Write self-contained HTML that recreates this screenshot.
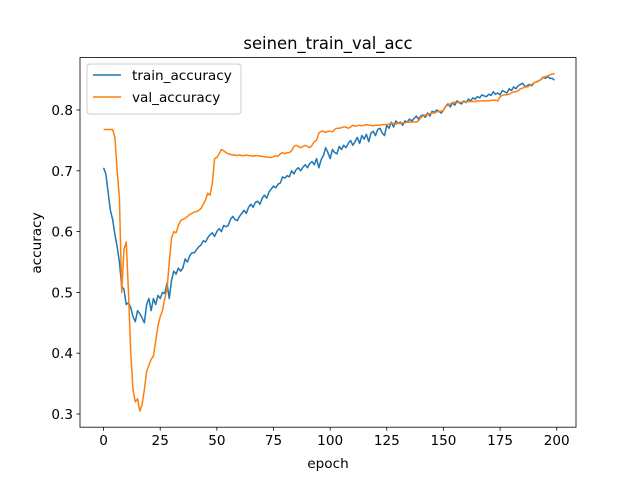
<!DOCTYPE html>
<html><head><meta charset="utf-8"><style>
body{margin:0;background:#fff}
svg{display:block;font-family:"DejaVu Sans","Liberation Sans",sans-serif}
</style></head><body>
<svg id="chart" width="640" height="480">
<rect width="640" height="480" fill="#fff"/>
<text x="328" y="49" text-anchor="middle" font-size="16.4">seinen_train_val_acc</text>
<g id="xt"></g>
<g id="yt"></g>
<text x="328" y="468" text-anchor="middle" font-size="13.6">epoch</text>
<text transform="translate(41,243) rotate(-90)" text-anchor="middle" font-size="13.6">accuracy</text>
<g id="series"></g>
<rect x="80" y="57.6" width="496" height="369.6" fill="none" stroke="#000" stroke-width="0.8"/>
<g>
<rect x="87" y="64" width="154" height="50" rx="3" fill="#fff" fill-opacity="0.8" stroke="#ccc"/>
<line x1="93" y1="75" x2="121" y2="75" stroke="#1f77b4" stroke-width="1.5"/>
<text x="132" y="80" font-size="13.6">train_accuracy</text>
<line x1="93" y1="97" x2="121" y2="97" stroke="#ff7f0e" stroke-width="1.5"/>
<text x="132" y="102" font-size="13.6">val_accuracy</text>
</g>
</svg>
<script>
const xTicks=[0,25,50,75,100,125,150,175,200];
const yTicks=[0.3,0.4,0.5,0.6,0.7,0.8];
const trainAcc=[0.705,0.695,0.665,0.635,0.62,0.595,0.575,0.55,0.51,0.505,0.48,0.483,0.475,0.46,0.452,0.47,0.465,0.458,0.45,0.48,0.49,0.47,0.49,0.48,0.495,0.49,0.5,0.498,0.515,0.49,0.52,0.535,0.53,0.54,0.535,0.54,0.555,0.55,0.56,0.565,0.565,0.57,0.575,0.578,0.585,0.583,0.59,0.595,0.598,0.592,0.6,0.605,0.6,0.61,0.608,0.61,0.62,0.625,0.62,0.618,
0.625,0.63,0.635,0.63,0.64,0.645,0.64,0.648,0.65,0.645,0.655,0.66,0.655,0.665,0.67,
0.675,0.672,0.678,0.68,0.69,0.688,0.692,0.69,0.7,0.695,0.702,0.705,0.7,0.706,0.71,
0.705,0.712,0.715,0.71,0.72,0.705,0.718,0.725,0.738,0.73,
0.72,0.735,0.73,0.728,0.74,0.735,0.742,0.738,0.745,0.75,0.742,0.748,0.755,0.745,0.758,0.752,0.76,0.748,0.762,0.765,0.758,0.768,0.77,0.762,0.758,
0.775,0.77,0.78,0.772,0.782,0.778,0.78,0.775,0.782,0.78,0.785,0.782,0.786,0.79,0.785,0.79,0.792,0.788,0.795,0.79,0.798,0.796,0.8,0.798,0.795,
0.8,0.806,0.81,0.805,0.812,0.808,0.815,0.812,0.81,0.815,0.812,0.818,0.815,0.82,0.818,0.822,0.82,0.825,0.823,0.822,0.826,0.824,0.83,0.826,0.828,
0.825,0.832,0.83,0.828,0.835,0.832,0.838,0.835,0.84,0.842,0.844,0.838,0.84,0.842,0.84,0.845,0.846,0.848,0.85,0.854,0.852,0.855,0.852,0.852,0.849];
const valAcc=[0.768,0.768,0.768,0.768,0.768,0.755,0.7,0.655,0.5,0.57,0.583,0.5,0.4,0.34,0.32,0.325,0.305,0.315,0.34,0.37,0.38,0.39,0.395,0.42,0.445,0.46,0.47,0.49,0.505,0.55,0.59,0.6,0.598,0.61,0.618,0.62,0.622,0.625,0.628,0.63,0.632,0.633,0.635,0.638,0.645,0.652,0.663,0.66,0.68,0.72,0.722,0.728,0.735,0.733,0.73,0.728,
0.727,0.726,0.726,0.725,0.726,0.725,0.725,0.726,0.725,0.725,0.724,0.725,0.725,0.724,0.724,0.723,0.723,0.722,0.722,
0.723,0.725,0.724,0.728,0.73,0.728,0.73,0.73,0.733,0.74,0.742,0.74,0.738,0.74,0.742,0.74,0.738,0.742,0.748,0.75,0.762,0.765,0.765,0.763,0.765,
0.765,0.764,0.768,0.77,0.77,0.771,0.772,0.772,0.77,0.772,0.775,0.773,0.774,0.775,0.774,0.775,0.776,0.775,0.775,0.774,0.775,0.775,0.775,0.776,0.776,
0.776,0.777,0.778,0.778,0.777,0.778,0.778,0.779,0.779,0.78,0.78,0.78,0.781,0.78,0.782,0.788,0.79,0.792,0.792,0.794,0.795,0.795,0.797,0.798,0.798,
0.8,0.806,0.808,0.81,0.812,0.813,0.812,0.813,0.813,0.813,0.813,0.814,0.814,0.814,0.814,0.815,0.815,0.815,0.815,0.815,0.815,0.816,0.816,0.816,0.815,
0.822,0.824,0.825,0.825,0.826,0.828,0.83,0.83,0.832,0.835,0.836,0.838,0.838,0.84,0.842,0.845,0.846,0.848,0.85,0.853,0.855,0.856,0.858,0.859,0.86];
const NS='http://www.w3.org/2000/svg';
const X0=80,X1=576,Y0=57.6,Y1=427.2;
const xmin=-10.4,xmax=208.5,ymin=0.2783,ymax=0.8862;
function sx(v){return X0+(v-xmin)/(xmax-xmin)*(X1-X0);}
function sy(v){return Y1-(v-ymin)/(ymax-ymin)*(Y1-Y0);}
const xt=document.getElementById('xt'),yt=document.getElementById('yt'),se=document.getElementById('series');
xTicks.forEach(t=>{
 const l=document.createElementNS(NS,'line');
 l.setAttribute('x1',sx(t));l.setAttribute('x2',sx(t));l.setAttribute('y1',Y1);l.setAttribute('y2',Y1+3.5);l.setAttribute('stroke','#000');l.setAttribute('stroke-width','0.8');
 
 
 xt.appendChild(l);
 const tx=document.createElementNS(NS,'text');
 tx.setAttribute('x',sx(t));tx.setAttribute('y',Y1+18);tx.setAttribute('text-anchor','middle');tx.setAttribute('font-size','13.6');tx.textContent=t;
 
 
 xt.appendChild(tx);
});
yTicks.forEach(t=>{
 const l=document.createElementNS(NS,'line');
 l.setAttribute('x1',X0-3.5);l.setAttribute('x2',X0);l.setAttribute('y1',sy(t));l.setAttribute('y2',sy(t));l.setAttribute('stroke','#000');l.setAttribute('stroke-width','0.8');
 
 
 yt.appendChild(l);
 const tx=document.createElementNS(NS,'text');
 tx.setAttribute('x',X0-7);tx.setAttribute('y',sy(t)+5);tx.setAttribute('text-anchor','end');tx.setAttribute('font-size','13.6');tx.textContent=t.toFixed(1);
 
 
 yt.appendChild(tx);
});
function line(arr,color,name){
 const p=document.createElementNS(NS,'polyline');
 p.setAttribute('points',arr.map((v,i)=>sx(i).toFixed(2)+','+sy(v).toFixed(2)).join(' '));
 p.setAttribute('fill','none');p.setAttribute('stroke',color);p.setAttribute('stroke-width','1.5');p.setAttribute('stroke-linejoin','round');
 
 
 se.appendChild(p);
}
line(trainAcc,'#1f77b4','train-accuracy-line');
line(valAcc,'#ff7f0e','val-accuracy-line');
</script>
</body></html>
